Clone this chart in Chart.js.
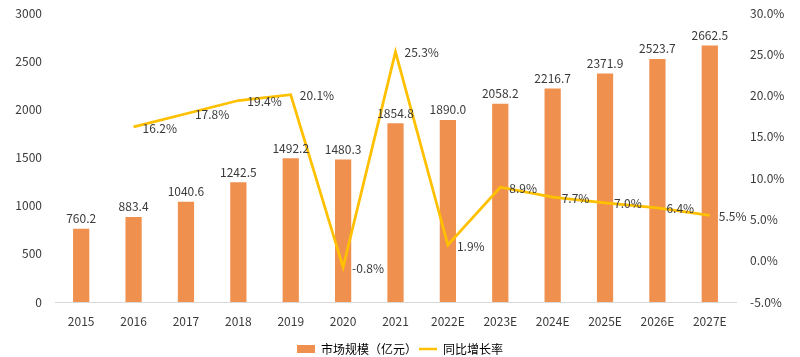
<!DOCTYPE html>
<html>
<head>
<meta charset="utf-8">
<script src="https://cdn.jsdelivr.net/npm/chart.js@4/dist/chart.umd.min.js"></script>
<style>
html,body{margin:0;padding:0;background:#fff;}
#wrap{width:800px;height:357px;position:relative;}
</style>
</head>
<body>
<div id="wrap"><canvas id="c" width="800" height="357"></canvas></div>
<script>
const categories = ['2015','2016','2017','2018','2019','2020','2021','2022E','2023E','2024E','2025E','2026E','2027E'];
const marketSize = [760.2, 883.4, 1040.6, 1242.5, 1492.2, 1480.3, 1854.8, 1890.0, 2058.2, 2216.7, 2371.9, 2523.7, 2662.5];
const growthRate = [null, 16.2, 17.8, 19.4, 20.1, -0.8, 25.3, 1.9, 8.9, 7.7, 7.0, 6.4, 5.5];
const leftTicks = [0, 500, 1000, 1500, 2000, 2500, 3000];
const rightTicks = [-5, 0, 5, 10, 15, 20, 25, 30];
const seriesNames = ['市场规模（亿元）', '同比增长率'];

const FONT = '"Noto Sans CJK SC", "Noto Sans", sans-serif';
const TXT = '#3a3a3a';

const labelPlugin = {
  id: 'valueLabels',
  afterDatasetsDraw(chart) {
    const ctx = chart.ctx;
    ctx.save();
    ctx.font = '12px ' + FONT;
    ctx.fillStyle = TXT;
    const barMeta = chart.getDatasetMeta(0);
    barMeta.data.forEach((el, i) => {
      ctx.textAlign = 'center';
      ctx.textBaseline = 'bottom';
      ctx.fillText(marketSize[i].toFixed(1), el.x, el.y - 4);
    });
    const lineMeta = chart.getDatasetMeta(1);
    lineMeta.data.forEach((el, i) => {
      if (growthRate[i] === null) return;
      ctx.textAlign = 'left';
      ctx.textBaseline = 'middle';
      ctx.fillText(growthRate[i].toFixed(1) + '%', el.x + 9, el.y + 1);
    });
    ctx.restore();
  }
};

function fixV(w) {
  return function (scale) {
    scale.width = w;
    scale.paddingTop = 0;
    scale.paddingBottom = 0;
  };
}

new Chart(document.getElementById('c'), {
  data: {
    labels: categories,
    datasets: [
      {
        type: 'bar',
        label: seriesNames[0],
        data: marketSize,
        backgroundColor: '#F0904E',
        yAxisID: 'y',
        barPercentage: 0.31,
        categoryPercentage: 1.0,
        order: 2
      },
      {
        type: 'line',
        label: seriesNames[1],
        data: growthRate,
        borderColor: '#FFC000',
        backgroundColor: '#FFC000',
        borderWidth: 2.75,
        pointRadius: 0,
        tension: 0,
        spanGaps: false,
        yAxisID: 'y1',
        order: 1
      }
    ]
  },
  options: {
    responsive: false,
    animation: false,
    devicePixelRatio: 1,
    layout: { padding: { top: 13, left: 0, right: 0, bottom: -8 } },
    plugins: {
      tooltip: { enabled: false },
      legend: {
        position: 'bottom',
        labels: {
          usePointStyle: true,
          pointStyleWidth: 18,
          boxHeight: 8,
          padding: 2,
          color: TXT,
          font: { family: FONT, size: 12 },
          generateLabels(chart) {
            return chart.data.datasets.map((ds, i) => ({
              text: ds.label,
              fillStyle: ds.backgroundColor,
              strokeStyle: ds.type === 'line' ? ds.borderColor : ds.backgroundColor,
              lineWidth: ds.type === 'line' ? 2.5 : 0,
              pointStyle: ds.type === 'line' ? 'line' : 'rect',
              datasetIndex: i,
              hidden: false
            }));
          }
        }
      }
    },
    scales: {
      x: {
        afterFit(scale) { scale.height = 39; scale.paddingLeft = 0; scale.paddingRight = 0; },
        grid: { display: false, drawTicks: false },
        border: { display: true, color: '#D9D9D9', width: 1 },
        ticks: { color: TXT, font: { family: FONT, size: 12 }, padding: 12, maxRotation: 0 }
      },
      y: {
        position: 'left',
        min: 0,
        max: 3000,
        afterBuildTicks(scale) { scale.ticks = leftTicks.map(v => ({ value: v })); },
        afterFit: fixV(55),
        grid: { display: false, drawTicks: false },
        border: { display: false },
        ticks: { color: TXT, font: { family: FONT, size: 12 }, padding: 13, callback: v => String(v) }
      },
      y1: {
        position: 'right',
        min: -5,
        max: 30,
        afterBuildTicks(scale) { scale.ticks = rightTicks.map(v => ({ value: v })); },
        afterFit: fixV(64),
        grid: { display: false, drawTicks: false },
        border: { display: false },
        ticks: {
          color: TXT, font: { family: FONT, size: 12 }, padding: 14,
          callback: v => v.toFixed(1) + '%'
        }
      }
    }
  },
  plugins: [labelPlugin]
});
</script>
</body>
</html>
